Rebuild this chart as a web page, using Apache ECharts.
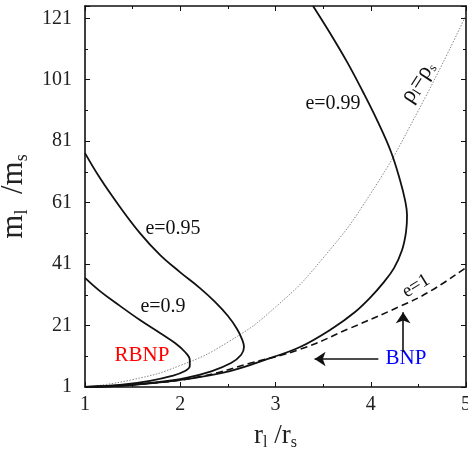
<!DOCTYPE html>
<html><head><meta charset="utf-8">
<script src="https://cdn.jsdelivr.net/npm/echarts@6/dist/echarts.min.js"></script>
<style>html,body{margin:0;padding:0;background:#fff}#c{width:468px;height:454px}</style>
</head><body><div id="c"></div>
<script>
// ---- data ----
const xTicks = [1, 2, 3, 4, 5];
const yTicks = [1, 21, 41, 61, 81, 101, 121];

const e090_x = [1, 1.157, 1.367, 1.577, 1.787, 1.945, 2.05, 2.10, 2.10, 2.05, 1.913, 1.682, 1.367, 1];
const e090_y = [36.5, 32.2, 27.4, 22.8, 18.6, 15.3, 12.4, 9.8, 7.8, 6.2, 4.6, 3.0, 1.65, 1];

const e095_x = [1, 1.157, 1.367, 1.577, 1.787, 1.997, 2.207, 2.365, 2.501, 2.596, 2.648, 2.669, 2.638, 2.533, 2.333, 2.05, 1.682, 1.315, 1];
const e095_y = [77.1, 69.0, 59.6, 51.1, 44.0, 38.4, 33.2, 28.7, 24.1, 19.9, 16.6, 14.0, 11.4, 8.8, 6.2, 3.9, 2.3, 1.3, 1];

const e099_x = [3.394, 3.572, 3.751, 3.919, 4.076, 4.213, 4.307, 4.36, 4.381, 4.37, 4.328, 4.244, 4.129, 3.992, 3.835, 3.604, 3.257, 2.942, 2.522, 2.0, 1.472, 1];
const e099_y = [125, 116.2, 106.8, 97.0, 87.2, 77.5, 68.4, 61.8, 56.9, 51.4, 45.5, 39.7, 34.8, 30.0, 25.4, 20.2, 14.0, 10.4, 6.2, 3.3, 1.65, 1];

const e100_x = [1, 1.68, 2.21, 2.73, 3.26, 3.78, 4.31, 4.62, 5];
const e100_y = [1, 2.2, 4.4, 8.7, 13.3, 20.1, 27.3, 32.1, 39.9];

const rho_x = [1, 1.5, 2, 2.5, 3, 3.5, 4, 4.5, 5];
const rho_y = [1, 3.4, 8, 15.6, 27, 43, 64, 91, 122];

// arrows (from BNP label), data coordinates
const arrowLeft = [[4.08, 10.1], [3.41, 10.1]];
const arrowUp = [[4.34, 12.4], [4.34, 25.3]];

const pairs = (xs, ys) => xs.map((x, i) => [x, ys[i]]);

const FONT = "'Liberation Serif','DejaVu Serif',serif";
const chart = echarts.init(document.getElementById('c'), null, {renderer: 'canvas'});

const axisCommon = {
  type: 'value',
  axisLine: {show: true, onZero: false, lineStyle: {color: '#111', width: 1.6}},
  axisTick: {show: true, inside: true, length: 5, lineStyle: {color: '#111', width: 1}},
  minorTick: {show: true, splitNumber: 2, length: 3, lineStyle: {color: '#111', width: 1}},
  splitLine: {show: false},
  minorSplitLine: {show: false}
};

const solid = {color: '#111', width: 1.8};

const option = {
  animation: false,
  backgroundColor: '#fff',
  grid: {left: 85, right: 2, top: 6, bottom: 67, containLabel: false, outerBoundsMode: 'none'},
  xAxis: [
    Object.assign({}, axisCommon, {
      min: xTicks[0], max: xTicks[xTicks.length - 1], interval: 1, position: 'bottom',
      axisLabel: {show: true, margin: 8, color: '#222', fontFamily: FONT, fontSize: 20},
      name: 'r{s|l} /r{s|s}', nameLocation: 'middle', nameGap: 34,
      nameTextStyle: {color: '#222', fontFamily: FONT, fontSize: 27,
        rich: {s: {fontFamily: FONT, fontSize: 16, color: '#222', padding: [14, 0, 0, 0]}}}
    }),
    Object.assign({}, axisCommon, {
      min: xTicks[0], max: xTicks[xTicks.length - 1], interval: 1, position: 'top',
      axisLabel: {show: false}
    })
  ],
  yAxis: [
    Object.assign({}, axisCommon, {
      min: yTicks[0], max: 125, interval: 20, position: 'left',
      axisLabel: {show: true, margin: 13, color: '#222', fontFamily: FONT, fontSize: 20,
        formatter: v => (yTicks.indexOf(v) >= 0 ? String(v) : '')},
      name: 'm{s|l}  /m{s|s}', nameLocation: 'middle', nameGap: 50,
      nameTextStyle: {color: '#222', fontFamily: FONT, fontSize: 31,
        rich: {s: {fontFamily: FONT, fontSize: 18, color: '#222', padding: [16, 0, 0, 0]}}}
    }),
    Object.assign({}, axisCommon, {
      min: yTicks[0], max: 125, interval: 20, position: 'right',
      axisLabel: {show: false}
    })
  ],
  series: [
    {name: 'rho', type: 'line', data: pairs(rho_x, rho_y), smooth: true, symbol: 'none',
      lineStyle: {color: '#888', width: 1, type: [1.5, 1.5]}, z: 2},
    {name: 'e=1', type: 'line', data: pairs(e100_x, e100_y), smooth: true, symbol: 'none',
      lineStyle: {color: '#111', width: 1.6, type: [7, 4]}, z: 3},
    {name: 'e=0.9', type: 'line', data: pairs(e090_x, e090_y), smooth: 0.4, symbol: 'none', lineStyle: solid, z: 4},
    {name: 'e=0.95', type: 'line', data: pairs(e095_x, e095_y), smooth: 0.4, symbol: 'none', lineStyle: solid, z: 4},
    {name: 'e=0.99', type: 'line', data: pairs(e099_x, e099_y), smooth: 0.4, symbol: 'none', lineStyle: solid, z: 4},
    {name: 'arrows', type: 'line', data: [], symbol: 'none', color: '#111',
      markLine: {silent: true, symbol: ['none', 'arrow'], symbolSize: 11, animation: false,
        label: {show: false},
        itemStyle: {color: '#111'},
        lineStyle: {color: '#111', width: 1.6, type: 'solid'},
        data: [
          [{coord: arrowLeft[0]}, {coord: arrowLeft[1]}],
          [{coord: arrowUp[0]}, {coord: arrowUp[1]}]
        ]}}
  ],
  graphic: [
    {type: 'text', x: 333, y: 104, style: {text: 'e=0.99', font: '20px ' + FONT, fill: '#111', align: 'center', verticalAlign: 'middle'}},
    {type: 'text', x: 173, y: 229, style: {text: 'e=0.95', font: '20px ' + FONT, fill: '#111', align: 'center', verticalAlign: 'middle'}},
    {type: 'text', x: 163, y: 307, style: {text: 'e=0.9', font: '20px ' + FONT, fill: '#111', align: 'center', verticalAlign: 'middle'}},
    {type: 'text', x: 142, y: 355, style: {text: 'RBNP', font: '21px ' + FONT, fill: '#ff0000', align: 'center', verticalAlign: 'middle'}},
    {type: 'text', x: 406, y: 358, style: {text: 'BNP', font: '21px ' + FONT, fill: '#0000ff', align: 'center', verticalAlign: 'middle'}},
    {type: 'text', x: 416, y: 286, rotation: 0.55, style: {text: 'e=1', font: '19px ' + FONT, fill: '#111', align: 'center', verticalAlign: 'middle'}},
    {type: 'text', x: 418, y: 82, rotation: 1.0, style: {
      text: '{a|ρ}{b|l}{a|=ρ}{b|s}', align: 'center', verticalAlign: 'middle',
      rich: {a: {fontFamily: FONT, fontSize: 23, fill: '#111', color: '#111'},
             b: {fontFamily: FONT, fontSize: 13, fill: '#111', color: '#111', padding: [10, 0, 0, 0]}}}}
  ]
};
chart.setOption(option);
</script>
</body></html>
